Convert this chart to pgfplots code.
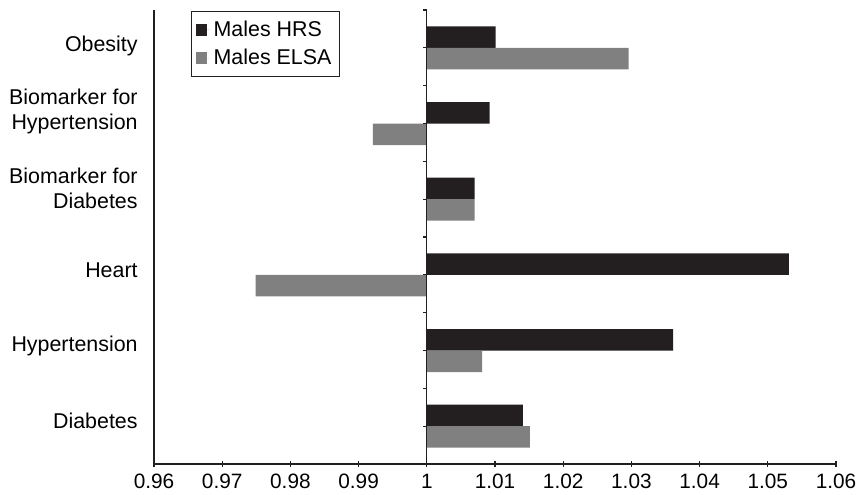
\documentclass[border=0pt]{standalone}
\usepackage{pgfplots}
\usepackage{pgfplotstable}
\pgfplotsset{compat=1.18}
\usepackage{fontspec}
\setmainfont{Liberation Sans}
\definecolor{hrs}{RGB}{35,31,32}
\definecolor{elsa}{RGB}{128,128,128}
\definecolor{axcol}{RGB}{35,31,32}

% pos: 0 = Diabetes ... 5 = Obesity
\pgfplotstableread{
pos hrs elsa
0 1.0141 1.0151
1 1.0361 1.0081
2 1.0531 0.9749
3 1.0070 1.0070
4 1.0092 0.9921
5 1.0101 1.0296
}\datatable

\begin{document}
\begin{tikzpicture}
\useasboundingbox (-77pt,-15pt) rectangle (352pt,232pt);
\begin{axis}[
  scale only axis,
  width=341pt, height=227pt,
  font=\fontsize{10.7}{12.5}\selectfont,
  clip=false,
  axis x line*=bottom,
  axis y line*=left,
  axis line style={axcol, line width=0.6pt},
  xmin=-0.04, xmax=0.06,
  ymin=-0.5, ymax=5.5,
  xtick={-0.04,-0.03,-0.02,-0.01,0,0.01,0.02,0.03,0.04,0.05,0.06},
  xticklabels={0.96,0.97,0.98,0.99,1,1.01,1.02,1.03,1.04,1.05,1.06},
  xticklabel style={font=\fontsize{10.4}{12}\selectfont, yshift=0pt},
  ytick={0.075,1.059,2.056,3.146,4.163,5.028},
  yticklabels={Diabetes,Hypertension,Heart,{Biomarker for\\Diabetes},{Biomarker for\\Hypertension},Obesity},
  yticklabel style={align=right, inner sep=0pt, xshift=-6.5pt},
  y tick style={draw=none},
  x tick style={axcol, line width=0.6pt},
  tick align=center,
  major tick length=3pt,
  legend style={
    at={(axis description cs:0.0543,0.998)}, anchor=north west,
    draw=axcol, line width=0.6pt,
    font=\fontsize{10.7}{12.5}\selectfont,
    inner xsep=2pt, inner ysep=2.5pt,
    row sep=1pt,
    cells={anchor=west},
  },
  legend image code/.code={\fill[#1] (0pt,-2.9pt) rectangle (5.8pt,2.9pt); \path (0pt,0pt) -- (7pt,0pt);},
]
\addplot[xbar, bar width=10.75pt, bar shift=5.375pt, fill=hrs, draw=none]
  table[x expr=\thisrow{hrs}-1, y=pos] {\datatable};
\addlegendentry{Males HRS}
\addplot[xbar, bar width=10.75pt, bar shift=-5.375pt, fill=elsa, draw=none]
  table[x expr=\thisrow{elsa}-1, y=pos] {\datatable};
\addlegendentry{Males ELSA}
\draw[axcol, line width=0.6pt] (axis cs:0,-0.5) -- (axis cs:0,5.5);
\pgfplotsinvokeforeach{-0.5,0,0.5,1,1.5,2,2.5,3,3.5,4,4.5,5,5.5}{
  \draw[axcol, line width=0.6pt] (axis cs:0,#1) -- ++(-2pt,0pt);
}
\end{axis}
\end{tikzpicture}
\end{document}
